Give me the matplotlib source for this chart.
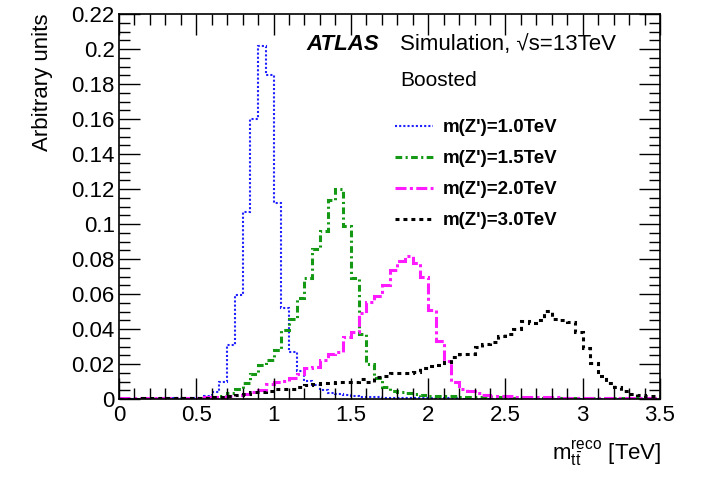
import numpy as np
import matplotlib
matplotlib.use("Agg")
import matplotlib.pyplot as plt
from matplotlib.lines import Line2D
from matplotlib.ticker import MultipleLocator, FuncFormatter

plt.rcParams['font.family'] = ['Liberation Sans', 'DejaVu Sans']
plt.rcParams['mathtext.fontset'] = 'custom'
plt.rcParams['mathtext.rm'] = 'Liberation Sans'
plt.rcParams['mathtext.it'] = 'Liberation Sans:italic'

# bin edges: 70 bins of 0.05 TeV
edges = np.linspace(0.0, 3.5, 71)

# normalised m_tt reco distributions
z1000 = [0.0002, 0.0002, 0.0003, 0.0003, 0.0003, 0.0004, 0.0004, 0.0005, 0.0006, 0.0007,
         0.0009, 0.0015, 0.0038, 0.0095, 0.031, 0.0596, 0.107, 0.160, 0.2015, 0.185,
         0.112, 0.052, 0.027, 0.016, 0.0105, 0.0078, 0.005, 0.0035, 0.0027, 0.0021,
         0.0017, 0.0014, 0.0012, 0.0010, 0.0009, 0.0008, 0.0007, 0.0006, 0.0006, 0.0005,
         0.0005, 0.0004, 0.0004, 0.0004, 0.0003, 0.0003, 0.0003, 0.0003, 0.0002, 0.0002,
         0.0002, 0.0002, 0.0002, 0.0002, 0.0001, 0.0001, 0.0001, 0.0001, 0.0001, 0.0001,
         0.0001, 0.0001, 0.0001, 0.0001, 0.0001, 0.0001, 0.0001, 0.0001, 0.0001, 0.0001]
z1500 = [0.0001, 0.0001, 0.0002, 0.0002, 0.0002, 0.0003, 0.0003, 0.0004, 0.0005, 0.0006,
         0.0008, 0.0010, 0.0013, 0.0020, 0.0035, 0.006, 0.009, 0.0145, 0.0195, 0.0225,
         0.028, 0.0395, 0.046, 0.058, 0.069, 0.086, 0.096, 0.114, 0.120, 0.099,
         0.069, 0.037, 0.020, 0.012, 0.007, 0.0047, 0.004, 0.0032, 0.0027, 0.0023,
         0.0020, 0.0018, 0.0016, 0.0015, 0.0014, 0.0013, 0.0012, 0.0011, 0.0010, 0.0010,
         0.0009, 0.0009, 0.0008, 0.0008, 0.0007, 0.0007, 0.0007, 0.0006, 0.0006, 0.0006,
         0.0005, 0.0005, 0.0005, 0.0005, 0.0004, 0.0004, 0.0004, 0.0004, 0.0004, 0.0003]
z2000 = [0.0004, 0.0004, 0.0004, 0.0005, 0.0005, 0.0005, 0.0006, 0.0006, 0.0007, 0.0008,
         0.0009, 0.0010, 0.0012, 0.0013, 0.0018, 0.0022, 0.003, 0.004, 0.005, 0.0085,
         0.0095, 0.0105, 0.012, 0.0145, 0.0175, 0.0185, 0.0223, 0.026, 0.027, 0.0356,
         0.0385, 0.049, 0.0556, 0.059, 0.065, 0.0737, 0.079, 0.082, 0.078, 0.070,
         0.051, 0.033, 0.022, 0.010, 0.006, 0.0047, 0.0036, 0.0025, 0.0020, 0.0017,
         0.0015, 0.0014, 0.0013, 0.0012, 0.0011, 0.0010, 0.0010, 0.0009, 0.0009, 0.0008,
         0.0008, 0.0007, 0.0007, 0.0007, 0.0006, 0.0006, 0.0006, 0.0005, 0.0005, 0.0005]
z3000 = [0.0003, 0.0003, 0.0003, 0.0004, 0.0004, 0.0004, 0.0005, 0.0005, 0.0006, 0.0006,
         0.0007, 0.0008, 0.0010, 0.0013, 0.0018, 0.0022, 0.003, 0.004, 0.0043, 0.0045,
         0.0055, 0.0058, 0.006, 0.007, 0.008, 0.0085, 0.009, 0.009, 0.0095, 0.0095,
         0.0095, 0.0113, 0.0099, 0.0124, 0.013, 0.0147, 0.0147, 0.015, 0.0155, 0.018,
         0.0189, 0.0194, 0.021, 0.024, 0.0257, 0.0257, 0.0296, 0.0315, 0.0328, 0.0363,
         0.037, 0.040, 0.0446, 0.0437, 0.0453, 0.0504, 0.0456, 0.0453, 0.0442, 0.0385,
         0.029, 0.0204, 0.0131, 0.009, 0.007, 0.0047, 0.0029, 0.0025, 0.0020, 0.0017]

labels = ["m(Z')=1.0TeV", "m(Z')=1.5TeV", "m(Z')=2.0TeV", "m(Z')=3.0TeV"]
series = [z1000, z1500, z2000, z3000]
colors = ['#1f1fff', '#159915', '#ff1aff', '#000000']
widths = [1.5, 2.2, 2.2, 2.2]
dashes = [(1, 1), (2.2, 1.1, 0.7, 1.1), (3.6, 1.1, 1.0, 1.1), (1.3, 1.3)]

fig = plt.figure(figsize=(7.02, 4.82), dpi=100)
ax = fig.add_axes([0.1695, 0.172, 0.7707, 0.7988])

handles = []
for vals, col, lw, ds, lab in zip(series, colors, widths, dashes, labels):
    ax.stairs(vals, edges, color=col, linewidth=lw, linestyle=(0, ds), fill=False,
              baseline=None)
    handles.append(Line2D([], [], color=col, linewidth=lw, linestyle=(0, ds)))

ax.set_xlim(0, 3.5)
ax.set_ylim(0, 0.22)
ax.xaxis.set_major_locator(MultipleLocator(0.5))
ax.xaxis.set_minor_locator(MultipleLocator(0.1))
ax.yaxis.set_major_locator(MultipleLocator(0.02))
ax.yaxis.set_minor_locator(MultipleLocator(0.005))
ax.tick_params(which='both', direction='in', top=True, right=True, labelsize=16, width=1)
ax.tick_params(which='major', length=15)
ax.tick_params(which='minor', length=8)
ax.tick_params(axis='x', pad=4)
ax.tick_params(axis='y', pad=3)
ax.xaxis.set_major_formatter(FuncFormatter(lambda v, p: f"{v:g}"))
ax.yaxis.set_major_formatter(FuncFormatter(lambda v, p: f"{v:g}"))
for sp in ax.spines.values():
    sp.set_linewidth(1.2)

fig.text(0.06, 0.971, "Arbitrary units", rotation=90, ha='center', va='top', fontsize=16)
fig.text(0.942, 0.046, r"$\mathregular{m_{t\bar{t}}^{reco}}$ [TeV]", ha='right',
         va='baseline', fontsize=16)

fig.text(0.437, 0.907, "ATLAS", fontsize=16, fontweight='bold', fontstyle='italic',
         va='center', ha='left')
fig.text(0.570, 0.907, "Simulation, √s=13TeV", fontsize=16, va='center', ha='left')
fig.text(0.570, 0.834, "Boosted", fontsize=15, va='center', ha='left')

fig.legend(handles, labels, loc='upper left', bbox_to_anchor=(0.5627, 0.753),
           frameon=False, prop={'weight': 'bold', 'size': 13.5},
           handlelength=2.03, handletextpad=0.53, labelspacing=0.74, borderpad=0,
           borderaxespad=0)

fig.savefig("out.png", dpi=100)
